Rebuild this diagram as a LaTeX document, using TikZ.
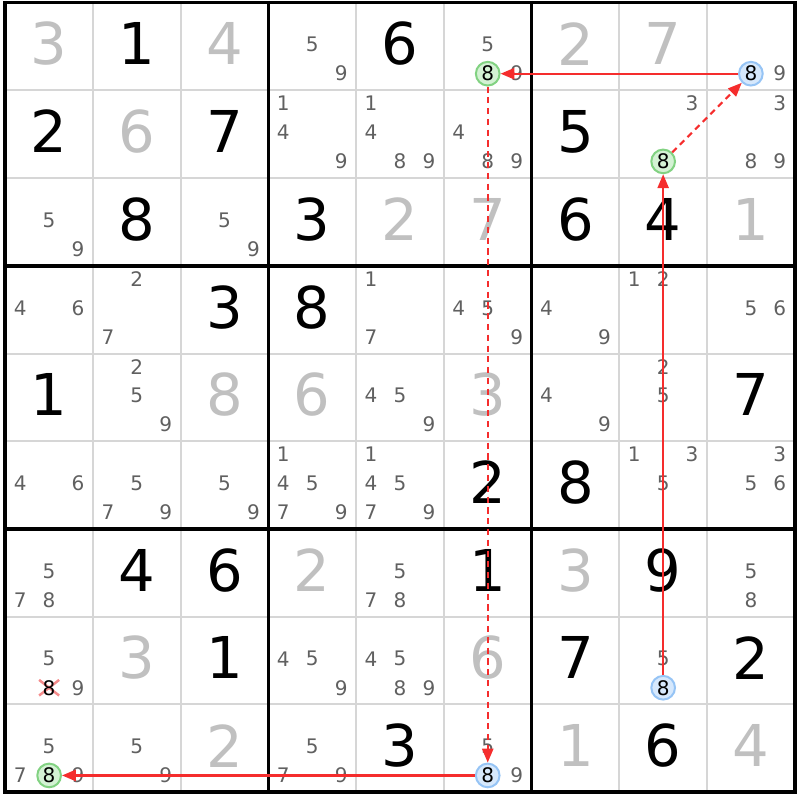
\documentclass[tikz,border=0pt]{standalone}
\usepackage{fontspec}
\setmainfont{DejaVu Sans}
\usetikzlibrary{arrows.meta, shapes.misc}
\definecolor{candgray}{RGB}{96,96,96}
\definecolor{givengray}{RGB}{192,192,192}
\definecolor{thingray}{RGB}{214,214,214}
\definecolor{linkred}{RGB}{245,45,45}
\begin{document}
\begin{tikzpicture}[
  cand/.style={font=\fontsize{6.5}{7}\selectfont, text=candgray, inner sep=0},
  given/.style={font=\fontsize{18.7}{20}\selectfont, text=givengray, inner sep=0},
  solved/.style={font=\fontsize{18.7}{20}\selectfont, text=black, inner sep=0},
  grn/.style={circle, draw={rgb,255:red,130;green,210;blue,130}, fill={rgb,255:red,212;green,242;blue,212}, line width=0.65pt, minimum size=0.27cm, inner sep=0, font=\fontsize{6.5}{7}\selectfont},
  blu/.style={circle, draw={rgb,255:red,150;green,196;blue,245}, fill={rgb,255:red,214;green,232;blue,252}, line width=0.65pt, minimum size=0.27cm, inner sep=0, font=\fontsize{6.5}{7}\selectfont},
  link/.style={draw=linkred, line width=0.7pt, -{Triangle[length=4.5pt,width=3.6pt]}},
  weak/.style={link, dash pattern=on 2pt off 1.5pt}]
\useasboundingbox (-0.06,0.03) rectangle (9.06,-9.09);

\foreach \i in {0,...,9} {
  \draw[thingray, line width=0.65pt] (\i,0) -- (\i,-9);
  \draw[thingray, line width=0.65pt] (0,-\i) -- (9,-\i);
}
\foreach \i in {0,3,6,9} {
  \draw[black, line width=1.2pt] (\i,0.02) -- (\i,-9.02);
  \draw[black, line width=1.2pt] (-0.02,-\i) -- (9.02,-\i);
}

\foreach \r/\c/\v in {1/1/3, 1/3/4, 1/7/2, 1/8/7, 2/2/6, 3/5/2, 3/6/7, 3/9/1, 5/3/8, 5/4/6, 5/6/3,
  7/4/2, 7/7/3, 8/2/3, 8/6/6, 9/3/2, 9/7/1, 9/9/4}
  \node[given] (g\r\c) at (\c-0.5,-\r+0.53) {\v};

\foreach \r/\c/\v in {1/2/1, 1/5/6, 2/1/2, 2/3/7, 2/7/5, 3/2/8, 3/4/3, 3/7/6, 3/8/4, 4/3/3, 4/4/8,
  5/1/1, 5/9/7, 6/6/2, 6/7/8, 7/2/4, 7/3/6, 7/6/1, 7/8/9, 8/3/1, 8/7/7, 8/9/2, 9/5/3, 9/8/6}
  \node[solved] (s\r\c) at (\c-0.5,-\r+0.53) {\v};

\foreach \r/\c/\l in {1/4/{5,9}, 1/6/{5,9}, 1/9/{9},
  2/4/{1,4,9}, 2/5/{1,4,8,9}, 2/6/{4,8,9}, 2/8/{3}, 2/9/{3,8,9},
  3/1/{5,9}, 3/3/{5,9},
  4/1/{4,6}, 4/2/{2,7}, 4/5/{1,7}, 4/6/{4,5,9}, 4/7/{4,9}, 4/8/{1,2}, 4/9/{5,6},
  5/2/{2,5,9}, 5/5/{4,5,9}, 5/7/{4,9}, 5/8/{2,5},
  6/1/{4,6}, 6/2/{5,7,9}, 6/3/{5,9}, 6/4/{1,4,5,7,9}, 6/5/{1,4,5,7,9}, 6/8/{1,3,5}, 6/9/{3,5,6},
  7/1/{5,7,8}, 7/5/{5,7,8}, 7/9/{5,8},
  8/1/{5,9}, 8/4/{4,5,9}, 8/5/{4,5,8,9}, 8/8/{5},
  9/1/{5,7,9}, 9/2/{5,9}, 9/4/{5,7,9}, 9/6/{5,9}}
  \foreach \d in \l {
    \pgfmathsetmacro\cx{\c-0.5+0.33*(mod(\d-1,3)-1)}
    \pgfmathsetmacro\cy{-\r+0.85-0.33*floor((\d-1)/3)}
    \node[cand] (k\r\c\d) at (\cx,\cy) {\d};
  }

\node[cross out, draw={rgb,255:red,245;green,140;blue,140}, line width=0.8pt, minimum width=0.2cm, minimum height=0.15cm, inner sep=0] (x81) at (0.5,-7.81) {};
\node[font=\fontsize{6.5}{7}\selectfont, inner sep=0] (k818) at (0.5,-7.81) {8};

\node[grn] (c16) at (5.5,-0.81) {8};
\node[blu] (c19) at (8.5,-0.81) {8};
\node[grn] (c28) at (7.5,-1.81) {8};
\node[blu] (c88) at (7.5,-7.81) {8};
\node[blu] (c96) at (5.5,-8.81) {8};
\node[grn] (c91) at (0.5,-8.81) {8};

\path[link] (c19) -- (c16);
\path[weak] (c28) -- (c19);
\path[link] (c88) -- (c28);
\path[weak] (c16) -- (c96);
\path[link] (c96) -- (c91);
\end{tikzpicture}
\end{document}
